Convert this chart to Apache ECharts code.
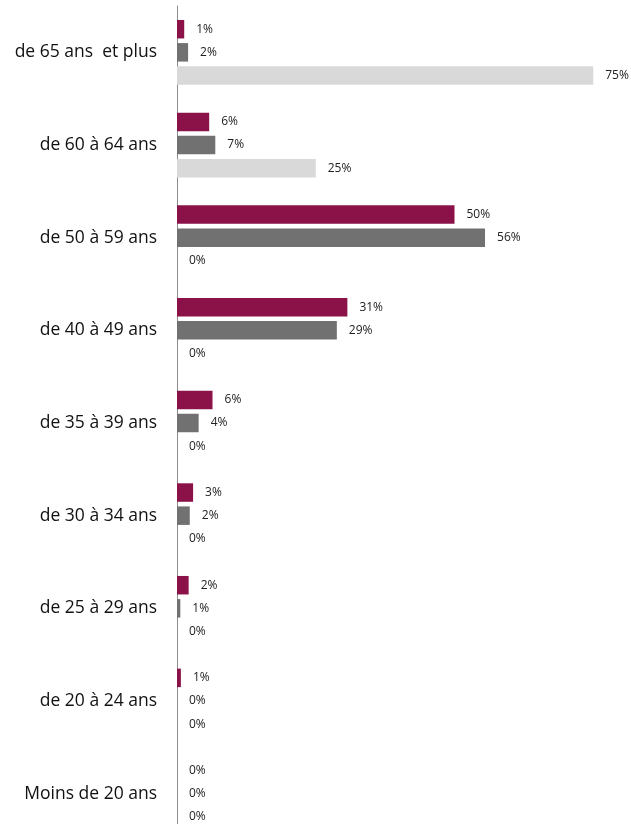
<!DOCTYPE html>
<html><head><meta charset="utf-8">
<script src="https://cdn.jsdelivr.net/npm/echarts@6/dist/echarts.min.js"></script>
<style>html,body{margin:0;padding:0;background:#fff}#c{width:631px;height:824px}</style>
</head><body><div id="c"></div>
<script>
var categories = ["de 65 ans  et plus","de 60 à 64 ans","de 50 à 59 ans","de 40 à 49 ans","de 35 à 39 ans","de 30 à 34 ans","de 25 à 29 ans","de 20 à 24 ans","Moins de 20 ans"];
var seriesA = [1.3, 5.8, 50, 30.7, 6.4, 2.9, 2.1, 0.7, 0];
var seriesB = [2.0, 6.9, 55.5, 28.8, 3.9, 2.3, 0.6, 0, 0];
var seriesC = [75, 25, 0, 0, 0, 0, 0, 0, 0];
var colors = ["#8B1249", "#717171", "#D9D9D9"];

var chart = echarts.init(document.getElementById('c'));
function mk(name, data, color) {
  return {
    name: name, type: 'bar', data: data, barWidth: 18.5, barGap: '25%',
    itemStyle: { color: color },
    label: { show: true, position: 'right', distance: 12, fontFamily: 'Open Sans', fontSize: 12, color: '#222',
      formatter: function (p) { return Math.round(p.value) + '%'; } }
  };
}
chart.setOption({
  animation: false,
  grid: { left: 177, width: 444, top: 6, height: 834, outerBoundsMode: 'none', containLabel: false },
  xAxis: { type: 'value', min: 0, max: 80, show: false },
  yAxis: {
    type: 'category', data: categories, inverse: true,
    axisLine: { show: true, lineStyle: { color: '#8c8c8c', width: 1 } },
    axisTick: { show: false },
    axisLabel: { fontFamily: 'Open Sans', fontSize: 17.5, color: '#111', margin: 20 }
  },
  series: [mk('A', seriesA, colors[0]), mk('B', seriesB, colors[1]), mk('C', seriesC, colors[2])]
});
</script></body></html>
